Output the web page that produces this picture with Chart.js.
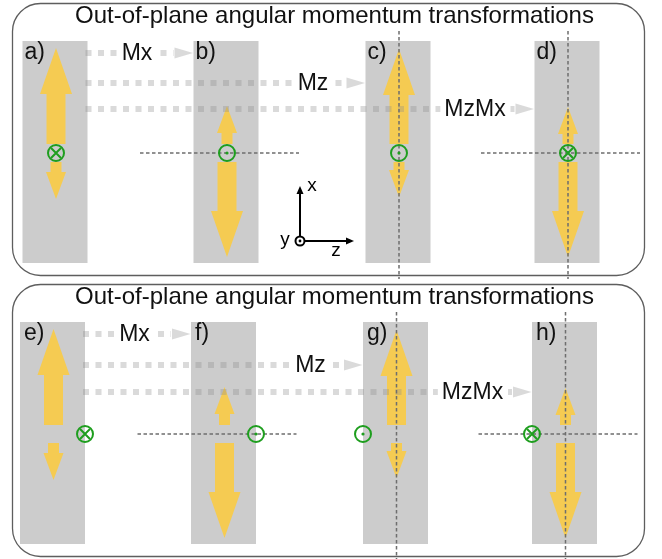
<!DOCTYPE html>
<html><head><meta charset="utf-8">
<script src="https://cdn.jsdelivr.net/npm/chart.js@4/dist/chart.umd.min.js"></script>
<style>html,body{margin:0;padding:0;background:#fff}canvas{display:block}</style>
</head><body>
<canvas id="c" width="662" height="559"></canvas>
<script>
// ---------------- data ----------------
const figureTitles = ['Out-of-plane angular momentum transformations', 'Out-of-plane angular momentum transformations'];
const panelLabels = [['a)', 'b)', 'c)', 'd)'], ['e)', 'f)', 'g)', 'h)']];
const operationNames = ['Mx', 'Mz', 'MzMx'];
const operationTarget = [1, 2, 3];               // panel reached from panel a)/e)
const upArrowLength = [[105, 47, 104, 46], [105, 47, 104, 46]];
const downArrowLength = [[46, 104, 44, 104], [46, 104, 44, 104]];
const spinSymbol = [['in', 'out', 'out', 'in'], ['in', 'out', 'out', 'in']];
const spinEdge = [[0, 0, 0, 0], [1, 1, -1, -1]];  // 0 centre, 1 right edge, -1 left edge
const mirrorHorizontal = [[0, 1, 0, 1], [0, 1, 0, 1]];
const mirrorVertical = [[0, 0, 1, 1], [0, 0, 1, 1]];
const axisLabels = ['x', 'y', 'z'];

// ---------------- layout (styles/positions) ----------------
const rowDY = [0, 281];
const rowDX = [0, -2.5];
const panelLeft = [22.5, 193.5, 365.5, 534.5];
const panelW = 65, panelTop = 41, panelBottom = 263, centerY = 153;
const opRowY = [53, 83, 109];
const opTextX = [137, 313, 475];
const YELLOW = '#f5cb52', GREEN = '#1e9e1e', PANEL = '#cccccc';

function panelCenterX(r, i) { return panelLeft[i] + rowDX[r] + panelW / 2 + 1; }

// datasets: spins (circles) and mirror planes through the library's scales
const spinRing = [], spinCross = [], spinDot = [];
const mirrorSets = [];
for (let r = 0; r < 2; r++) {
  for (let i = 0; i < 4; i++) {
    const cx = panelCenterX(r, i);
    const sx = spinEdge[r][i] === 0 ? cx : panelLeft[i] + rowDX[r] + (spinEdge[r][i] > 0 ? panelW : 0);
    const sy = centerY + rowDY[r];
    spinRing.push({x: sx, y: sy});
    if (spinSymbol[r][i] === 'in') spinCross.push({x: sx, y: sy});
    else spinDot.push({x: sx, y: sy});
    if (mirrorHorizontal[r][i]) mirrorSets.push([{x: cx - 87, y: sy}, {x: cx + 72, y: sy}]);
    if (mirrorVertical[r][i]) mirrorSets.push([{x: cx, y: rowDY[r] + 31}, {x: cx, y: rowDY[r] + 279}]);
  }
}

const datasets = [
  {type: 'scatter', data: spinRing, pointStyle: 'circle', pointRadius: 8, pointBorderWidth: 2,
   pointBorderColor: GREEN, pointBackgroundColor: 'rgba(0,0,0,0)', order: 1},
  {type: 'scatter', data: spinCross, pointStyle: 'crossRot', pointRadius: 7, pointBorderWidth: 2,
   pointBorderColor: GREEN, pointBackgroundColor: GREEN, order: 0},
  {type: 'scatter', data: spinDot, pointStyle: 'circle', pointRadius: 1.6, pointBorderWidth: 0,
   pointBorderColor: GREEN, pointBackgroundColor: GREEN, order: 0},
];
mirrorSets.forEach(d => datasets.push({type: 'line', data: d, showLine: true, borderColor: '#6e6e6e',
  borderWidth: 1.5, borderDash: [3.5, 2.5], pointRadius: 0, fill: false, order: 5}));

// ---------------- drawing plugin ----------------
function roundRect(ctx, x, y, w, h, rad) {
  ctx.beginPath();
  ctx.moveTo(x + rad, y);
  ctx.lineTo(x + w - rad, y); ctx.arcTo(x + w, y, x + w, y + rad, rad);
  ctx.lineTo(x + w, y + h - rad); ctx.arcTo(x + w, y + h, x + w - rad, y + h, rad);
  ctx.lineTo(x + rad, y + h); ctx.arcTo(x, y + h, x, y + h - rad, rad);
  ctx.lineTo(x, y + rad); ctx.arcTo(x, y, x + rad, y, rad);
  ctx.closePath();
}

function yArrow(ctx, X, Y, cx, y0, dir, len, big) {
  // dir +1 = up (towards +x), -1 = down
  const gap = 9;
  const shaftW = big ? 19 : 11, headW = big ? 32 : 20, headL = big ? 46 : 27;
  const s = y0 - dir * gap, tip = y0 - dir * len, hb = tip + dir * headL;
  ctx.beginPath();
  ctx.moveTo(X(cx - shaftW / 2), Y(s));
  ctx.lineTo(X(cx - shaftW / 2), Y(hb));
  ctx.lineTo(X(cx - headW / 2), Y(hb));
  ctx.lineTo(X(cx), Y(tip));
  ctx.lineTo(X(cx + headW / 2), Y(hb));
  ctx.lineTo(X(cx + shaftW / 2), Y(hb));
  ctx.lineTo(X(cx + shaftW / 2), Y(s));
  ctx.closePath();
  ctx.fillStyle = YELLOW;
  ctx.fill();
}

const diagramPlugin = {
  id: 'diagram',
  beforeDatasetsDraw(chart) {
    const ctx = chart.ctx, xs = chart.scales.x, ys = chart.scales.y;
    const X = v => xs.getPixelForValue(v), Y = v => ys.getPixelForValue(v);
    ctx.save();
    for (let r = 0; r < 2; r++) {
      const dy = rowDY[r], dx = rowDX[r];
      // frame
      roundRect(ctx, X(12.5), Y(3.5 + dy), X(644.5) - X(12.5), Y(275.5 + dy) - Y(3.5 + dy), 28);
      ctx.strokeStyle = '#5e5e5e'; ctx.lineWidth = 1.3; ctx.stroke();
      // title
      ctx.fillStyle = '#111';
      ctx.font = '24px "Liberation Sans", Arial, sans-serif';
      ctx.textAlign = 'center'; ctx.textBaseline = 'middle';
      ctx.fillText(figureTitles[r], X(334.5), Y(16 + dy));
      // panels
      for (let i = 0; i < 4; i++) {
        ctx.fillStyle = PANEL;
        ctx.fillRect(X(panelLeft[i] + dx), Y(panelTop + dy), X(panelLeft[i] + dx + panelW) - X(panelLeft[i] + dx), Y(panelBottom + dy) - Y(panelTop + dy));
      }
      // yellow arrows
      for (let i = 0; i < 4; i++) {
        const cx = panelCenterX(r, i), y0 = centerY + dy;
        const up = upArrowLength[r][i], dn = downArrowLength[r][i];
        yArrow(ctx, X, Y, cx, y0, 1, up, up > dn);
        yArrow(ctx, X, Y, cx, y0, -1, dn, dn > up);
      }
      // transformation arrows (dotted)
      const startX = panelLeft[0] + dx + panelW;
      for (let k = 0; k < 3; k++) {
        const yy = opRowY[k] + dy + (r ? k : 0);
        const endX = panelLeft[operationTarget[k]] + dx;
        const tc = 'rgba(140,140,140,0.32)';
        ctx.strokeStyle = tc; ctx.lineWidth = 6; ctx.setLineDash([6, 6.5]);
        ctx.beginPath(); ctx.moveTo(X(startX - 2), Y(yy)); ctx.lineTo(X(endX - 20), Y(yy)); ctx.stroke();
        ctx.setLineDash([]);
        ctx.fillStyle = tc;
        ctx.beginPath();
        ctx.moveTo(X(endX - 19), Y(yy - 5.5)); ctx.lineTo(X(endX - 0.5), Y(yy)); ctx.lineTo(X(endX - 19), Y(yy + 5.5));
        ctx.closePath(); ctx.fill();
        // label with white backing
        ctx.font = '23px "Liberation Sans", Arial, sans-serif';
        const tw = ctx.measureText(operationNames[k]).width;
        const tx = opTextX[k] + dx;
        ctx.fillStyle = '#fff';
        ctx.fillRect(X(tx - tw / 2 - 4), Y(yy - 5), tw + 8, 10);
        ctx.fillStyle = '#111';
        ctx.textAlign = 'center'; ctx.textBaseline = 'middle';
        ctx.fillText(operationNames[k], X(tx), Y(yy + 1));
      }
    }
    ctx.restore();
  },
  afterDatasetsDraw(chart) {
    const ctx = chart.ctx, xs = chart.scales.x, ys = chart.scales.y;
    const X = v => xs.getPixelForValue(v), Y = v => ys.getPixelForValue(v);
    ctx.save();
    // panel labels
    ctx.fillStyle = '#111';
    ctx.font = '23px "Liberation Sans", Arial, sans-serif';
    ctx.textAlign = 'left'; ctx.textBaseline = 'middle';
    for (let r = 0; r < 2; r++)
      for (let i = 0; i < 4; i++)
        ctx.fillText(panelLabels[r][i], X(panelLeft[i] + rowDX[r] + 2 + (r ? 2 : 0)), Y(53 + rowDY[r]));
    // coordinate system icon
    const ox = 300, oy = 241;
    ctx.strokeStyle = '#000'; ctx.fillStyle = '#000'; ctx.lineWidth = 2;
    ctx.beginPath(); ctx.moveTo(X(ox), Y(oy - 5)); ctx.lineTo(X(ox), Y(192)); ctx.stroke();
    ctx.beginPath(); ctx.moveTo(X(ox - 3.5), Y(194)); ctx.lineTo(X(ox), Y(186)); ctx.lineTo(X(ox + 3.5), Y(194)); ctx.closePath(); ctx.fill();
    ctx.beginPath(); ctx.moveTo(X(ox + 5), Y(oy)); ctx.lineTo(X(348), Y(oy)); ctx.stroke();
    ctx.beginPath(); ctx.moveTo(X(346), Y(oy - 3.5)); ctx.lineTo(X(354), Y(oy)); ctx.lineTo(X(346), Y(oy + 3.5)); ctx.closePath(); ctx.fill();
    ctx.beginPath(); ctx.arc(X(ox), Y(oy), 4.5, 0, Math.PI * 2); ctx.stroke();
    ctx.beginPath(); ctx.arc(X(ox), Y(oy), 1.4, 0, Math.PI * 2); ctx.fill();
    ctx.font = '19px "Liberation Sans", Arial, sans-serif';
    ctx.textAlign = 'center'; ctx.textBaseline = 'middle';
    ctx.fillText(axisLabels[0], X(312), Y(186));
    ctx.fillText(axisLabels[1], X(285), Y(240));
    ctx.fillText(axisLabels[2], X(336), Y(251));
    ctx.restore();
  }
};

new Chart(document.getElementById('c'), {
  type: 'scatter',
  data: {datasets},
  options: {
    responsive: false, animation: false, devicePixelRatio: 1,
    layout: {padding: 0, autoPadding: false},
    plugins: {legend: {display: false}, tooltip: {enabled: false}, title: {display: false}},
    events: [],
    scales: {
      x: {type: 'linear', min: 0, max: 662, display: false},
      y: {type: 'linear', min: 0, max: 559, reverse: true, display: false}
    }
  },
  plugins: [diagramPlugin]
});
</script>
</body></html>
